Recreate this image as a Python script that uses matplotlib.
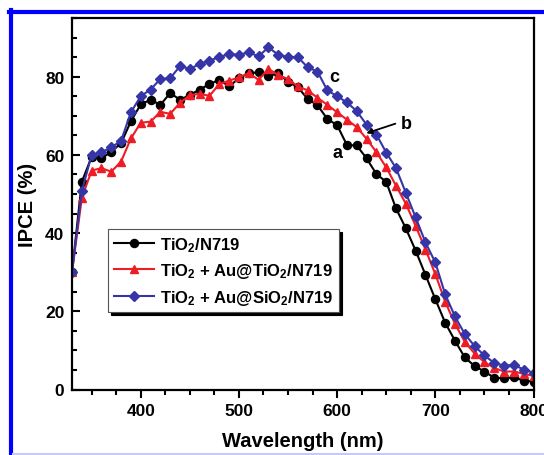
import numpy as np
import matplotlib
matplotlib.use("Agg")
import matplotlib.pyplot as plt
from matplotlib.lines import Line2D
from matplotlib.ticker import MultipleLocator

plt.rcParams['font.family'] = ['Liberation Sans', 'DejaVu Sans']
plt.rcParams['font.weight'] = 'bold'
plt.rcParams['axes.labelweight'] = 'bold'
plt.rcParams['mathtext.fontset'] = 'custom'
plt.rcParams['mathtext.default'] = 'regular'

wavelength = np.arange(330, 801, 10)

ipce_a = [30.0, 53.1, 59.5, 59.1, 60.8, 63.0, 68.6, 72.9, 74.1, 72.8,
          75.8, 74.1, 75.3, 76.7, 78.1, 79.2, 77.5, 79.6, 80.9, 81.1,
          80.1, 80.9, 78.7, 77.3, 74.3, 72.7, 69.2, 67.6, 62.5, 62.4,
          59.1, 55.1, 53.1, 46.3, 41.2, 35.5, 29.3, 23.1, 17.1, 12.5,
          8.2, 6.0, 4.6, 3.0, 2.9, 3.1, 2.3, 2.0]

ipce_b = [30.0, 49.0, 56.0, 56.6, 55.7, 58.3, 64.2, 68.2, 68.5, 71.0,
          70.5, 73.3, 75.3, 75.6, 75.1, 78.1, 79.0, 79.8, 80.9, 79.2,
          82.0, 80.4, 79.4, 77.5, 76.5, 74.6, 72.8, 70.9, 69.0, 67.1,
          64.1, 60.7, 56.8, 52.1, 47.5, 41.8, 35.8, 29.5, 22.5, 16.8,
          12.2, 9.2, 7.0, 5.5, 4.6, 4.6, 4.0, 3.5]

ipce_c = [30.0, 50.7, 60.0, 60.7, 61.9, 63.6, 70.9, 75.0, 76.7, 79.4,
          79.6, 82.7, 82.0, 83.2, 84.1, 85.0, 85.8, 85.6, 86.2, 85.2,
          87.5, 85.6, 85.0, 85.0, 82.4, 81.3, 76.5, 75.0, 73.4, 71.2,
          67.7, 65.2, 60.6, 56.6, 50.3, 44.0, 37.6, 32.5, 24.4, 18.7,
          14.2, 11.1, 8.7, 6.8, 6.1, 6.3, 5.1, 4.3]

labels = [r'TiO$_2$/N719', r'TiO$_2$ + Au@TiO$_2$/N719', r'TiO$_2$ + Au@SiO$_2$/N719']

W, H = 544, 456
fig = plt.figure(figsize=(W / 100, H / 100), dpi=100)
ax = fig.add_axes([72 / W, (H - 390.5) / H, (533.5 - 72) / W, (390.5 - 19) / H])

ax.plot(wavelength, ipce_a, color='black', lw=1.5, marker='o', markersize=5.8, label=labels[0])
ax.plot(wavelength, ipce_b, color='#ee1c24', lw=1.5, marker='^', markersize=6.3, label=labels[1])
ax.plot(wavelength, ipce_c, color='#3535a8', lw=1.5, marker='D', markersize=5, label=labels[2])

ax.set_xlim(330, 800)
ax.set_ylim(0, 95)
ax.xaxis.set_major_locator(MultipleLocator(100))
ax.xaxis.set_minor_locator(MultipleLocator(25))
ax.yaxis.set_major_locator(MultipleLocator(20))
ax.yaxis.set_minor_locator(MultipleLocator(5))
ax.set_yticks([0, 20, 40, 60, 80])

ax.tick_params(axis='x', which='major', direction='out', length=6, width=1.5, labelsize=12.5, pad=4)
ax.tick_params(axis='x', which='minor', direction='out', length=3.5, width=1.5)
ax.tick_params(axis='y', which='major', direction='in', length=6, width=1.5, labelsize=12.5, pad=5.5)
ax.tick_params(axis='y', which='minor', direction='in', length=3.5, width=1.5)
for s in ax.spines.values():
    s.set_linewidth(1.6)

ax.set_xlabel('Wavelength (nm)', fontsize=14.5, fontweight='bold', labelpad=9)
ax.set_ylabel('IPCE (%)', fontsize=14.5, fontweight='bold', labelpad=6)

# curve labels
ax.text(597, 80, 'c', fontsize=13, ha='center', va='center')
ax.text(670, 68, 'b', fontsize=13, ha='center', va='center')
ax.text(600, 60.6, 'a', fontsize=13, ha='center', va='center')
ax.annotate('', xy=(627, 65.3), xytext=(662, 68.2),
            arrowprops=dict(arrowstyle='-|>', color='black', lw=1.3, mutation_scale=8))

leg = ax.legend(loc='upper left', bbox_to_anchor=(0.0787, 0.432), fontsize=12,
                handlelength=2.4, handletextpad=0.35, borderpad=0.35, labelspacing=0.45,
                borderaxespad=0, fancybox=False, framealpha=1,
                shadow={'color': 'black', 'alpha': 1})
leg.get_frame().set_edgecolor('#555555')
leg.get_frame().set_linewidth(0.8)

# blue frame around the figure
fig.add_artist(Line2D([9 / W, 1], [1 - 12.5 / H, 1 - 12.5 / H], color='#0000ff', lw=3, transform=fig.transFigure))
fig.add_artist(Line2D([11 / W, 11 / W], [0, 1 - 11 / H], color='#0000ff', lw=3, transform=fig.transFigure))
fig.add_artist(Line2D([13 / W, 1], [1.5 / H, 1.5 / H], color='#c8c8ff', lw=2.2, transform=fig.transFigure))

fig.savefig('out.png', dpi=100)
